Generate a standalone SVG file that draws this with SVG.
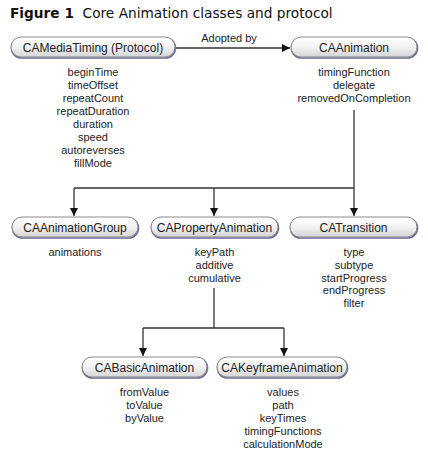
<svg xmlns="http://www.w3.org/2000/svg" width="428" height="458" viewBox="0 0 428 458">
<defs>
<linearGradient id="pillGrad" x1="0" y1="0" x2="0" y2="1">
<stop offset="0" stop-color="#ffffff"/>
<stop offset="0.5" stop-color="#f2f2f2"/>
<stop offset="1" stop-color="#d4d4d6"/>
</linearGradient>
<marker id="arrow" viewBox="0 0 10 10" refX="10" refY="5" markerWidth="8" markerHeight="8" markerUnits="userSpaceOnUse" orient="auto">
<path d="M0,0 L10,5 L0,10 Z" fill="#111"/>
</marker>
</defs>
<style>
.title{font-family:"DejaVu Sans","Liberation Sans",sans-serif;font-size:13.7px;fill:#111}
.tb{font-weight:bold}
.shadow{fill:none;stroke:#6a6a96;stroke-width:1.6}
.pill{fill:url(#pillGrad);stroke:#8a8a8a;stroke-width:1}
.name{font-family:"Liberation Sans",Arial,sans-serif;font-size:12px;fill:#222;text-anchor:middle}
.attr{font-family:"Liberation Sans",Arial,sans-serif;font-size:11px;fill:#222;text-anchor:middle}
.conn{fill:none;stroke:#333;stroke-width:1.3}
.lbl{font-family:"Liberation Sans",Arial,sans-serif;font-size:11px;fill:#222;text-anchor:middle}
</style>
<rect width="428" height="458" fill="#ffffff"/>
<text class="title" x="10" y="18"><tspan class="tb">Figure 1</tspan><tspan xml:space="preserve">  Core Animation classes and protocol</tspan></text>

<g id="connectors">
<line class="conn" x1="175" y1="48" x2="290" y2="48" marker-end="url(#arrow)"/>
<text class="lbl" x="229" y="42">Adopted by</text>
<path class="conn" d="M354,110 V188"/>
<path class="conn" d="M74,188 H354"/>
<line class="conn" x1="74" y1="188" x2="74" y2="216" marker-end="url(#arrow)"/>
<line class="conn" x1="214" y1="188" x2="214" y2="216" marker-end="url(#arrow)"/>
<line class="conn" x1="354" y1="188" x2="354" y2="216" marker-end="url(#arrow)"/>
<path class="conn" d="M214,288 V328"/>
<path class="conn" d="M143,328 H284"/>
<line class="conn" x1="143" y1="328" x2="143" y2="356" marker-end="url(#arrow)"/>
<line class="conn" x1="284" y1="328" x2="284" y2="356" marker-end="url(#arrow)"/>
</g>

<g id="CAMediaTiming">
<rect class="shadow" x="11.5" y="38" width="164" height="20" rx="10"/>
<rect class="pill" x="11" y="37" width="164" height="20" rx="10"/>
<text class="name" x="93" y="51.5">CAMediaTiming (Protocol)</text>
<text class="attr" x="93" y="76">beginTime</text>
<text class="attr" x="93" y="89">timeOffset</text>
<text class="attr" x="93" y="102">repeatCount</text>
<text class="attr" x="93" y="115">repeatDuration</text>
<text class="attr" x="93" y="128">duration</text>
<text class="attr" x="93" y="141">speed</text>
<text class="attr" x="93" y="154">autoreverses</text>
<text class="attr" x="93" y="167">fillMode</text>
</g>

<g id="CAAnimation">
<rect class="shadow" x="291.5" y="38" width="126" height="20" rx="10"/>
<rect class="pill" x="291" y="37" width="126" height="20" rx="10"/>
<text class="name" x="354" y="51.5">CAAnimation</text>
<text class="attr" x="354" y="76">timingFunction</text>
<text class="attr" x="354" y="89">delegate</text>
<text class="attr" x="354" y="102">removedOnCompletion</text>
</g>

<g id="CAAnimationGroup">
<rect class="shadow" x="12.5" y="218" width="126" height="20" rx="10"/>
<rect class="pill" x="12" y="217" width="126" height="20" rx="10"/>
<text class="name" x="75" y="231.5">CAAnimationGroup</text>
<text class="attr" x="75" y="256">animations</text>
</g>

<g id="CAPropertyAnimation">
<rect class="shadow" x="151.5" y="218" width="127" height="20" rx="10"/>
<rect class="pill" x="151" y="217" width="127" height="20" rx="10"/>
<text class="name" x="214.5" y="231.5">CAPropertyAnimation</text>
<text class="attr" x="214.5" y="256">keyPath</text>
<text class="attr" x="214.5" y="269">additive</text>
<text class="attr" x="214.5" y="282">cumulative</text>
</g>

<g id="CATransition">
<rect class="shadow" x="290.5" y="218" width="127" height="20" rx="10"/>
<rect class="pill" x="290" y="217" width="127" height="20" rx="10"/>
<text class="name" x="353.5" y="231.5">CATransition</text>
<text class="attr" x="354" y="256">type</text>
<text class="attr" x="354" y="269">subtype</text>
<text class="attr" x="354" y="282">startProgress</text>
<text class="attr" x="354" y="294">endProgress</text>
<text class="attr" x="354" y="307">filter</text>
</g>

<g id="CABasicAnimation">
<rect class="shadow" x="82.5" y="358" width="125" height="20" rx="10"/>
<rect class="pill" x="82" y="357" width="125" height="20" rx="10"/>
<text class="name" x="144.5" y="371.5">CABasicAnimation</text>
<text class="attr" x="144.5" y="396">fromValue</text>
<text class="attr" x="144.5" y="409">toValue</text>
<text class="attr" x="144.5" y="422">byValue</text>
</g>

<g id="CAKeyframeAnimation">
<rect class="shadow" x="217.5" y="358" width="130" height="20" rx="10"/>
<rect class="pill" x="217" y="357" width="130" height="20" rx="10"/>
<text class="name" x="282" y="371.5">CAKeyframeAnimation</text>
<text class="attr" x="283" y="396">values</text>
<text class="attr" x="283" y="409">path</text>
<text class="attr" x="283" y="422">keyTimes</text>
<text class="attr" x="283" y="435">timingFunctions</text>
<text class="attr" x="283" y="448">calculationMode</text>
</g>
</svg>
